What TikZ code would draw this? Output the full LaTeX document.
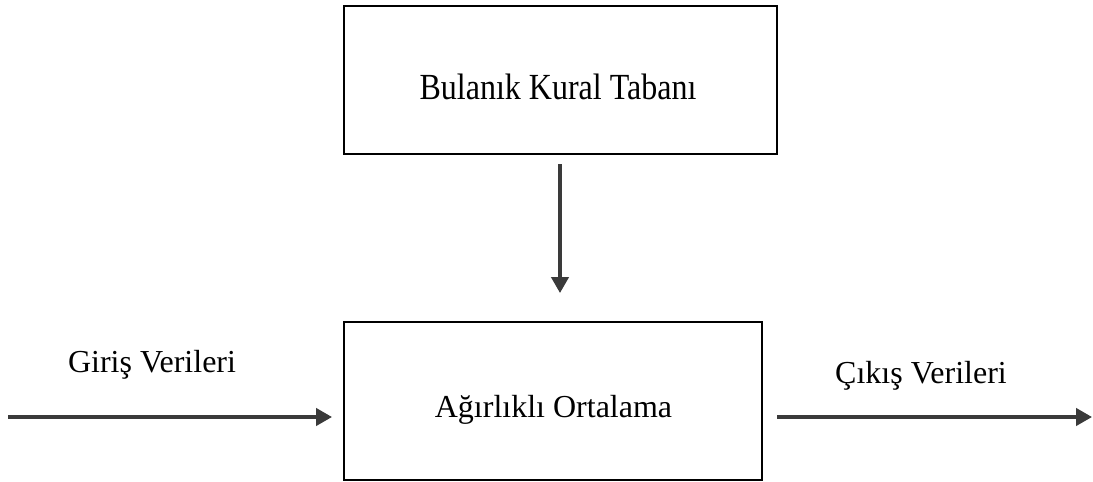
\documentclass[tikz,border=0pt]{standalone}
\usepackage{fontspec}
\setmainfont{Liberation Serif}
\usetikzlibrary{arrows.meta}
\definecolor{arrowgray}{HTML}{3A3A3A}
\tikzset{
  boxnode/.style={draw=black, line width=1.4pt, rectangle, inner sep=0pt},
  lbl/.style={font=\fontsize{24pt}{28pt}\selectfont, inner sep=0pt, anchor=base},
  conn/.style={draw=arrowgray, line width=2.5pt, -{Triangle[length=12pt,width=13pt]}}
}
\begin{document}
\begin{tikzpicture}[x=0.75pt, y=-0.75pt]
\useasboundingbox (0,0) rectangle (1093,482);
% boxes
\node[boxnode, minimum width=324.75pt, minimum height=111pt] (kb) at (560.5,80) {};
\node[boxnode, minimum width=313.5pt, minimum height=118.5pt] (wa) at (553,401) {};
% labels
\node[lbl, yscale=1.15] (kbt) at (558,99) {Bulanık Kural Tabanı};
\node[lbl] (wat) at (553.5,417) {Ağırlıklı Ortalama};
\node[lbl] (inl) at (152,372) {Giriş Verileri};
\node[lbl] (outl) at (921,383) {Çıkış Verileri};
% connector endpoints
\coordinate (vs) at (560,164);
\coordinate (ve) at (560,293);
\coordinate (ins) at (8,417);
\coordinate (ine) at (332,417);
\coordinate (outs) at (777,417);
\coordinate (oute) at (1092,417);
\draw[conn] (vs) -- (ve);
\draw[conn] (ins) -- (ine);
\draw[conn] (outs) -- (oute);
\end{tikzpicture}
\end{document}
